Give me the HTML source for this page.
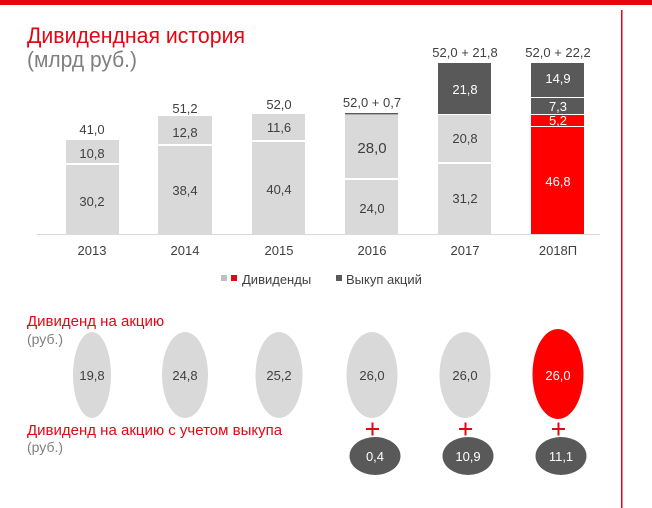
<!DOCTYPE html>
<html><head><meta charset="utf-8"><style>
html,body{margin:0;padding:0;background:#fff;}
svg{display:block;font-family:"Liberation Sans",sans-serif;}
</style></head><body>
<svg width="652" height="508" viewBox="0 0 652 508" xmlns="http://www.w3.org/2000/svg">
<rect x="0" y="0" width="652" height="5" fill="#e30613"/>
<rect x="621" y="10" width="1.5" height="498" fill="#e30613"/>
<text x="27" y="43" font-size="22" fill="#e30613" textLength="218" lengthAdjust="spacingAndGlyphs">Дивидендная история</text>
<text x="27" y="67" font-size="22" fill="#7f7f7f" textLength="110" lengthAdjust="spacingAndGlyphs">(млрд руб.)</text>
<g fill="#d9d9d9">
<rect x="66" y="140" width="53" height="23"/><rect x="66" y="165" width="53" height="69"/>
<rect x="158" y="116" width="54" height="28"/><rect x="158" y="146" width="54" height="88"/>
<rect x="252" y="114" width="53" height="26"/><rect x="252" y="142" width="53" height="92"/>
<rect x="345" y="115" width="53" height="63"/><rect x="345" y="180" width="53" height="54"/>
<rect x="438" y="115" width="53" height="47"/><rect x="438" y="164" width="53" height="70"/>
</g>
<rect x="345" y="113" width="53" height="1.5" fill="#595959"/>
<rect x="438" y="63" width="53" height="51" fill="#595959"/>
<rect x="531" y="63" width="53" height="34" fill="#595959"/>
<rect x="531" y="98" width="53" height="16" fill="#595959"/>
<rect x="531" y="115" width="53" height="11" fill="#ff0000"/>
<rect x="531" y="127" width="53" height="107" fill="#ff0000"/>
<rect x="37" y="234" width="563" height="1" fill="#d9d9d9"/>
<g font-size="13" fill="#404040" text-anchor="middle">
<text x="92" y="134">41,0</text><text x="185" y="113">51,2</text><text x="279" y="109">52,0</text>
<text x="372" y="107">52,0 + 0,7</text><text x="465" y="57">52,0 + 21,8</text><text x="558" y="57">52,0 + 22,2</text>
<text x="92" y="158">10,8</text><text x="92" y="206">30,2</text>
<text x="185" y="137">12,8</text><text x="185" y="195">38,4</text>
<text x="279" y="132">11,6</text><text x="279" y="194">40,4</text>
<text x="372" y="153" font-size="15">28,0</text><text x="372" y="213">24,0</text>
<text x="465" y="143">20,8</text><text x="465" y="203">31,2</text>
<text x="465" y="94" fill="#fff">21,8</text>
<text x="558" y="83" fill="#fff">14,9</text><text x="558" y="111" fill="#fff">7,3</text>
<text x="558" y="125" fill="#fff">5,2</text><text x="558" y="186" fill="#fff">46,8</text>
<text x="92" y="255">2013</text><text x="185" y="255">2014</text><text x="279" y="255">2015</text>
<text x="372" y="255">2016</text><text x="465" y="255">2017</text><text x="558" y="255">2018П</text>
</g>
<rect x="221" y="275" width="6" height="6" fill="#bfbfbf"/>
<rect x="231" y="275" width="6" height="6" fill="#e30613"/>
<text x="242" y="284" font-size="13" fill="#404040">Дивиденды</text>
<rect x="336" y="275" width="6" height="6" fill="#595959"/>
<text x="346" y="284" font-size="13" fill="#404040">Выкуп акций</text>
<text x="27" y="326" font-size="15" fill="#e30613">Дивиденд на акцию</text>
<text x="27" y="344" font-size="14" fill="#7f7f7f">(руб.)</text>
<text x="27" y="435" font-size="15" fill="#e30613">Дивиденд на акцию с учетом выкупа</text>
<text x="27" y="452" font-size="14" fill="#7f7f7f">(руб.)</text>
<g fill="#d9d9d9">
<ellipse cx="92" cy="375" rx="19" ry="43"/><ellipse cx="185" cy="375" rx="23" ry="43"/>
<ellipse cx="279" cy="375" rx="23.5" ry="43"/><ellipse cx="372" cy="375" rx="25.5" ry="43"/>
<ellipse cx="465" cy="375" rx="25.5" ry="43"/>
</g>
<ellipse cx="558" cy="374" rx="25.5" ry="45" fill="#ff0000"/>
<g font-size="13" fill="#404040" text-anchor="middle">
<text x="92" y="380">19,8</text><text x="185" y="380">24,8</text><text x="279" y="380">25,2</text>
<text x="372" y="380">26,0</text><text x="465" y="380">26,0</text><text x="558" y="380" fill="#fff">26,0</text>
</g>
<g stroke="#e30613" stroke-width="2">
<path d="M366 429h13M372.5 422.5v13"/><path d="M459 429h13M465.5 422.5v13"/><path d="M552 429h13M558.5 422.5v13"/>
</g>
<g fill="#595959">
<ellipse cx="375" cy="456" rx="25.5" ry="19"/><ellipse cx="468" cy="456" rx="25.5" ry="19"/><ellipse cx="561" cy="456" rx="25.5" ry="19"/>
</g>
<g font-size="13" fill="#fff" text-anchor="middle">
<text x="375" y="461">0,4</text><text x="468" y="461">10,9</text><text x="561" y="461">11,1</text>
</g>
</svg>
</body></html>
